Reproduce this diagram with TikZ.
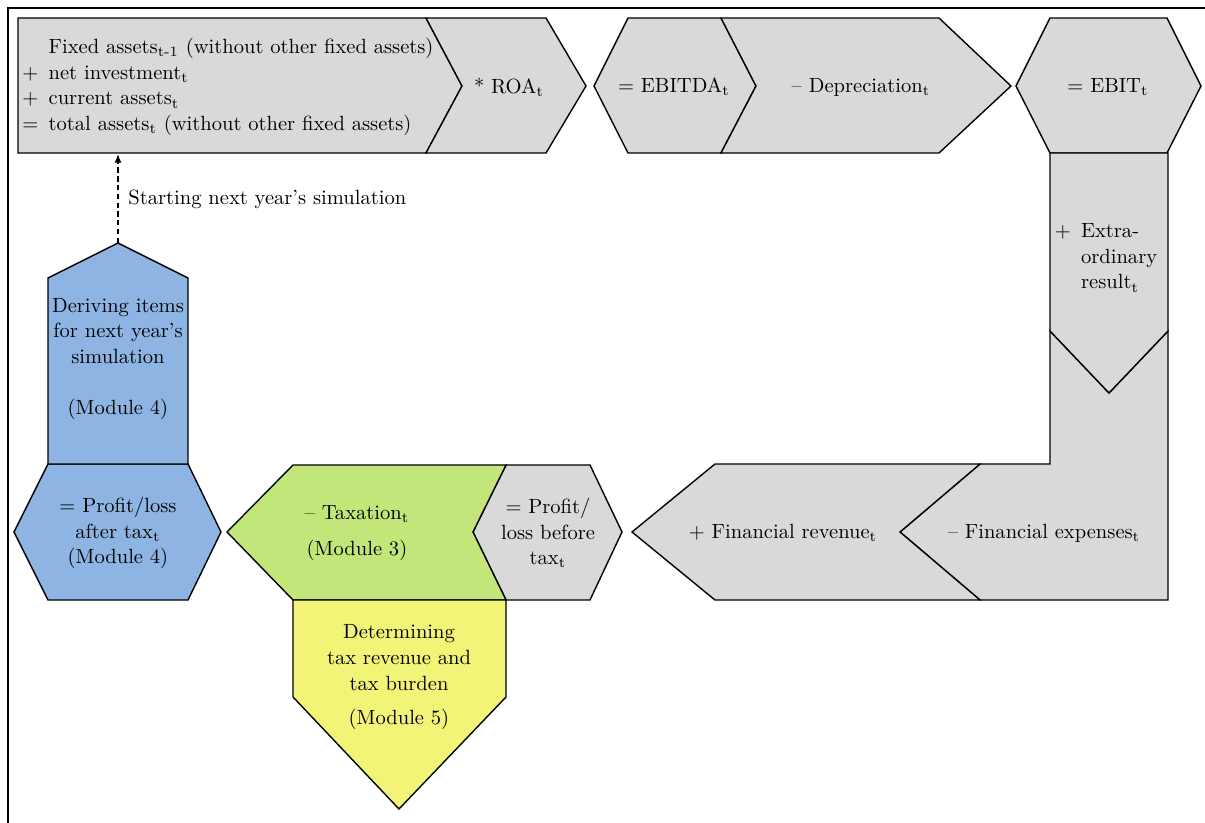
\documentclass[tikz,border=0pt]{standalone}
\usetikzlibrary{arrows.meta}
\definecolor{boxgray}{RGB}{217,217,217}
\definecolor{boxblue}{RGB}{141,180,226}
\definecolor{boxgreen}{RGB}{194,230,122}
\definecolor{boxyellow}{RGB}{241,244,118}
\newcommand{\sbt}{\textsubscript{t}}
\begin{document}
\begin{tikzpicture}[x=0.467pt,y=-0.467pt,
  shp/.style={draw=black,line width=0.65pt,line join=miter},
  gshp/.style={shp,fill=boxgray},
  lbl/.style={align=center,inner sep=0pt,font=\fontsize{9.6}{12}\selectfont},
  framestyle/.style={line width=0.8pt}]
\useasboundingbox (0,0) rectangle (1205,823);
\draw[framestyle] (8,823) -- (8,8) -- (1205,8);

% top row
\draw[gshp] (18,18) -- (426,18) -- (462,86) -- (426,153) -- (18,153) -- cycle;
\draw[gshp] (426,18) -- (546,18) -- (586,86) -- (546,153) -- (426,153) -- (462,86) -- cycle;
\draw[gshp] (628,18) -- (721,18) -- (756,86) -- (721,153) -- (628,153) -- (594,86) -- cycle;
\draw[gshp] (721,18) -- (939,18) -- (1011,86) -- (939,153) -- (721,153) -- (756,86) -- cycle;
\draw[gshp] (1050,18) -- (1167,18) -- (1201,86) -- (1167,153) -- (1050,153) -- (1016,86) -- cycle;

% right column
\draw[gshp] (1050,331) -- (1109,393) -- (1168,331) -- (1168,600) -- (980,600) -- (900,532) -- (980,464) -- (1050,464) -- cycle;
\draw[gshp] (1050,153) -- (1168,153) -- (1168,331) -- (1109,393) -- (1050,331) -- cycle;

% bottom row
\draw[gshp] (715,464) -- (980,464) -- (900,532) -- (980,600) -- (715,600) -- (632,532) -- cycle;
\draw[gshp] (506,465) -- (590,465) -- (622,532) -- (590,600) -- (506,600) -- (473,532) -- cycle;
\draw[shp,fill=boxgreen] (293,465) -- (506,465) -- (473,532) -- (506,600) -- (293,600) -- (227,532) -- cycle;
\draw[shp,fill=boxyellow] (293,600) -- (506,600) -- (506,697) -- (399,809) -- (293,697) -- cycle;
\draw[shp,fill=boxblue] (48,464) -- (188,464) -- (221,532) -- (188,600) -- (48,600) -- (14,532) -- cycle;
\draw[shp,fill=boxblue] (48,464) -- (48,278) -- (118,243) -- (188,278) -- (188,464) -- cycle;

% labels
\node[lbl,anchor=west,align=left] (assets) at (22,87) {\begin{tabular}{@{}l@{\ \,}l@{}}
 & Fixed assets\textsubscript{t-1} (without other fixed assets)\\
+ & net investment\sbt\\
+ & current assets\sbt\\
= & total assets\sbt{} (without other fixed assets)\end{tabular}};
\node[lbl] (roa) at (509,87) {* ROA\sbt};
\node[lbl] (ebitda) at (674,87) {= EBITDA\sbt};
\node[lbl] (depr) at (861,87) {\textendash{} Depreciation\sbt};
\node[lbl] (ebit) at (1108,87) {= EBIT\sbt};
\node[lbl,align=left] (extra) at (1106,258) {\begin{tabular}{@{}l@{\ \,}l@{}}+ & Extra-\\ & ordinary\\ & result\sbt\end{tabular}};
\node[lbl] (finexp) at (1044,533) {\textendash{} Financial expenses\sbt};
\node[lbl] (finrev) at (783,533) {+ Financial revenue\sbt};
\node[lbl] (plbt) at (548,533) {= Profit/\\loss before\\tax\sbt};
\node[lbl] (tax) at (357,533) {\textendash{} Taxation\sbt\\[5pt](Module 3)};
\node[lbl] (mod5) at (399,677) {Determining\\tax revenue and\\tax burden\\[4pt](Module 5)};
\node[lbl] (plat) at (118,533) {= Profit/loss\\after tax\sbt\\(Module 4)};
\node[lbl] (deriv) at (118,359) {Deriving items\\for next year's\\simulation\\[12pt](Module 4)};

% arrow
\coordinate (dtop) at (118,243);
\coordinate (abot) at (118,154);
\draw[line width=0.6pt,dash pattern=on 2.5pt off 1.6pt,-{Latex[length=4pt,width=3.2pt]}] (dtop) -- (abot);
\node[lbl,anchor=west] (start) at (128,199) {Starting next year's simulation};
\end{tikzpicture}
\end{document}
